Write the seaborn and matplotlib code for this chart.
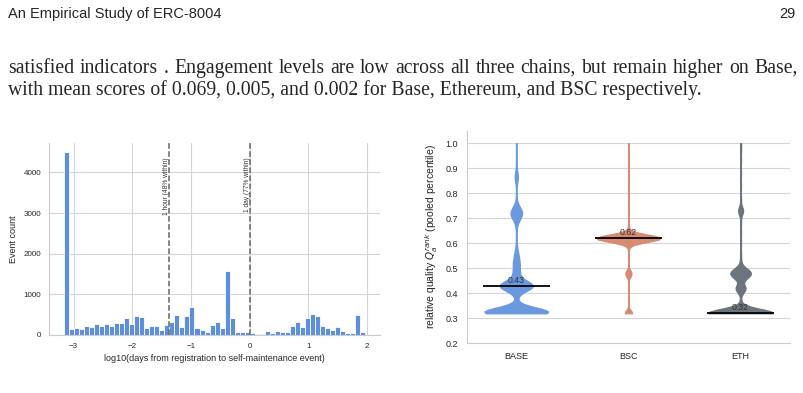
import numpy as np
import pandas as pd
import matplotlib.pyplot as plt
import seaborn as sns

# left panel: histogram of log10(days) until the self-maintenance event (60 bins)
bin_lo, bin_hi = -3.163, 1.963
event_counts = [4500, 150, 180, 140, 220, 205, 280, 220, 270, 230,
                290, 300, 420, 260, 475, 435, 172, 230, 230, 120,
                245, 320, 490, 205, 475, 690, 170, 135, 70, 245,
                325, 170, 1575, 430, 75, 85, 80, 40, 30, 25,
                90, 40, 90, 65, 65, 215, 325, 190, 430, 525,
                470, 215, 165, 115, 205, 100, 60, 60, 500, 85]
marker_pos = [np.log10(1 / 24), 0.0]
marker_labels = ["1 hour (48% within)", "1 day (77% within)"]

# right panel: relative quality percentile per chain (value, count)
chains = ["BASE", "BSC", "ETH"]
chain_colors = ["#6b99e0", "#d68b72", "#6c7480"]
base_q = [0.32, 0.33, 0.34, 0.36, 0.40, 0.42, 0.43, 0.44, 0.46, 0.49, 0.52, 0.55, 0.58,
          0.62, 0.66, 0.69, 0.71, 0.72, 0.73, 0.75, 0.79, 0.83, 0.86, 0.88, 0.92, 0.96, 1.00]
base_n = [50, 30, 12, 3, 6, 14, 20, 12, 8, 7, 7, 5, 2,
          1, 1, 4, 6, 4, 6, 4, 1, 1, 3, 2, 1, 1, 1]
bsc_q = [0.32, 0.33, 0.37, 0.42, 0.47, 0.48, 0.49, 0.54, 0.57, 0.60, 0.61, 0.62, 0.63,
         0.64, 0.67, 0.73, 0.80, 0.86, 0.91, 0.95, 1.00]
bsc_n = [8, 1, 1, 1, 3, 4, 2, 1, 1, 7, 22, 45, 22,
         7, 1, 1, 1, 1, 1, 1, 1]
eth_q = [0.32, 0.33, 0.34, 0.37, 0.41, 0.42, 0.43, 0.46, 0.47, 0.48, 0.49, 0.50, 0.53,
         0.56, 0.60, 0.64, 0.68, 0.72, 0.73, 0.74, 0.78, 0.83, 0.88, 0.93, 0.97, 1.00]
eth_n = [60, 12, 4, 1, 3, 7, 2, 4, 7, 9, 7, 3, 1,
         1, 1, 1, 1, 1, 4, 1, 1, 1, 1, 1, 1, 1]
medians = [0.43, 0.62, 0.32]

header = "An Empirical Study of ERC-8004"
page_no = "29"
para = ["satisfied indicators . Engagement levels are low across all three chains, but remain higher on Base,",
        "with mean scores of 0.069, 0.005, and 0.002 for Base, Ethereum, and BSC respectively."]

sns.set_style("whitegrid")
plt.rcParams['font.family'] = ['Liberation Sans', 'DejaVu Sans']
plt.rcParams['axes.edgecolor'] = '#cccccc'
plt.rcParams['grid.color'] = '#d6d6d6'
plt.rcParams['grid.linewidth'] = 0.8

fig = plt.figure(figsize=(8.04, 3.93), dpi=100)
renderer = fig.canvas.get_renderer()

fig.text(8 / 804, 1 - 17.7 / 393, header, fontsize=10.5, va='baseline')
fig.text(796 / 804, 1 - 17.7 / 393, page_no, fontsize=10.5, va='baseline', ha='right')

# paragraph: first line justified to the text block, last line left aligned
serif = ['Liberation Serif', 'DejaVu Serif']
para_size = 14.2
words = para[0].split(" ")
widths = []
for w in words:
    t = fig.text(0, 0, w, fontsize=para_size, family=serif)
    widths.append(t.get_window_extent(renderer).width)
    t.remove()
gap = (790 - sum(widths)) / (len(words) - 1)
xpos = 8
for w, wd in zip(words, widths):
    fig.text(xpos / 804, 1 - 73 / 393, w, fontsize=para_size, family=serif, va='baseline')
    xpos += wd + gap
fig.text(8 / 804, 1 - 95 / 393, para[1], fontsize=para_size, family=serif, va='baseline')

# histogram
ax1 = fig.add_axes([0.061, 0.1476, 0.4117, 0.4885])
width = (bin_hi - bin_lo) / len(event_counts)
hist_df = pd.DataFrame({"x": bin_lo + width * (np.arange(len(event_counts)) + 0.5),
                        "n": event_counts})
sns.histplot(data=hist_df, x="x", weights="n", bins=len(event_counts),
             binrange=(bin_lo, bin_hi), color="#5d8fdd",
             alpha=1, edgecolor="white", linewidth=0.6, ax=ax1)
for xp, lab in zip(marker_pos, marker_labels):
    ax1.axvline(xp, color="#666666", ls="--", lw=1.1)
    ax1.text(xp - 0.04, 4370, lab, rotation=90, ha="center", va="top",
             fontsize=4.8, color="#333333")
ax1.set_yticks([0, 1000, 2000, 3000, 4000])
ax1.set_xlabel("log10(days from registration to self-maintenance event)", fontsize=6.5, labelpad=3)
ax1.set_ylabel("Event count", fontsize=6.5)
ax1.tick_params(labelsize=5.8, pad=2)
sns.despine(ax=ax1)

# violins
ax2 = fig.add_axes([0.5808, 0.1265, 0.4017, 0.541])
df = pd.concat([
    pd.DataFrame({"chain": c, "q": np.repeat(q, n)})
    for c, q, n in zip(chains, [base_q, bsc_q, eth_q], [base_n, bsc_n, eth_n])
])
sns.violinplot(data=df, x="chain", y="q", hue="chain", order=chains, hue_order=chains,
               palette=chain_colors, cut=0, inner=None, density_norm="width",
               width=0.57, bw_method=0.1, linewidth=0.9, saturation=1,
               legend=False, ax=ax2)
for coll in ax2.collections:
    coll.set_edgecolor(coll.get_facecolor())
for i, m in enumerate(medians):
    ax2.hlines(m, i - 0.3, i + 0.3, color="black", lw=1.3, zorder=5)
    ax2.text(i, m + 0.004, f"{m:.2f}", ha="center", va="bottom", fontsize=6.3, color="#333333", zorder=6)
ax2.set_ylim(0.2, 1.05)
ax2.set_xlim(-0.44, 2.44)
ax2.set_yticks(np.arange(2, 11) / 10)
ax2.set_xlabel("")
ax2.set_ylabel(r"relative quality $Q_a^{rank}$ (pooled percentile)", fontsize=7.5)
ax2.tick_params(labelsize=6.5, pad=3)
sns.despine(ax=ax2)

fig.savefig("out.png", dpi=100)
